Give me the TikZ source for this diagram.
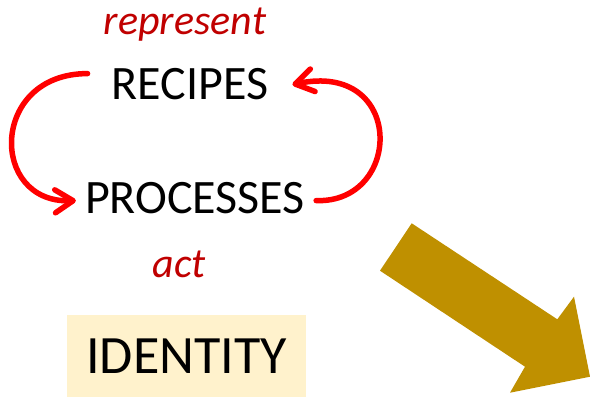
\documentclass[tikz,border=0pt]{standalone}
\usepackage{fontspec}
\setmainfont{Carlito}
\usetikzlibrary{arrows.meta}
\definecolor{verbred}{HTML}{C00000}
\definecolor{boxyellow}{HTML}{FFF2CC}
\definecolor{arrowgold}{HTML}{BF9000}

\begin{document}
\begin{tikzpicture}[x=1pt, y=-1pt,
            word/.style={font=\fontsize{48}{54}\selectfont, anchor=base, inner sep=0pt},
            verb/.style={font=\fontsize{42}{48}\selectfont\itshape, text=verbred, anchor=base, inner sep=0pt},
            cycle/.style={draw=red, line width=5.5pt, line cap=round, -{Straight Barb[length=18pt, width=23pt, round]}},
            idbox/.style={fill=boxyellow, minimum width=239pt, minimum height=82pt, inner sep=0pt, font=\fontsize{54}{60}\selectfont},
            bigarrow/.style={fill=arrowgold}
        ]
            \useasboundingbox (0,0) rectangle (590,397);

            % Verbo de arriba
            \node[verb] (represent) at (185, 34) {represent};

            % Recetas
            \node[word] (recipes) at (190, 99) {RECIPES};

            % Procesos
            \node[word] (processes) at (195, 213) {PROCESSES};

            % Verbo de abajo
            \node[verb] (act) at (179, 277) {act};

            % Identidad
            \node[idbox] (identity) at (186.5, 356) {IDENTITY};

            % Ciclo por la izquierda
            \draw[cycle] ([xshift=-24pt, yshift=10pt]recipes.west) .. controls +(-98,0) and +(-87,3) .. ([xshift=-9pt, yshift=-3pt]processes.west);

            % Ciclo por la derecha
            \draw[cycle] ([xshift=11pt, yshift=-3pt]processes.east) .. controls +(87,3) and +(113,-24) .. ([xshift=24pt, yshift=-1pt]recipes.east);

            % Flecha grande
            \fill[bigarrow] (411.7,223.3) -- (557.3,319.3) -- (574,296.7) -- (590,376.7) -- (510,392.7) -- (525,366.7) -- (380,270.7) -- cycle;

        \end{tikzpicture}
\end{document}
